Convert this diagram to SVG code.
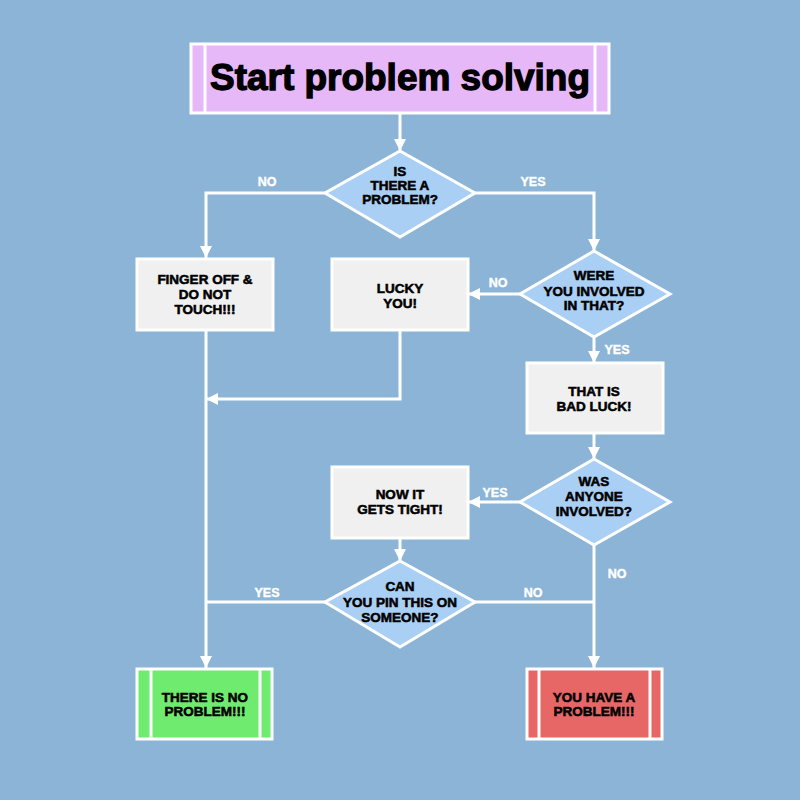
<svg xmlns="http://www.w3.org/2000/svg" width="800" height="800" viewBox="0 0 800 800">
<defs>
<marker id="ah" viewBox="0 0 12 12" markerWidth="12" markerHeight="12" refX="12" refY="6" orient="auto" markerUnits="userSpaceOnUse">
<path d="M0,0 L12,6 L0,12 z" fill="#ffffff"/>
</marker>
<style>
.box{fill:#f0f0f0;stroke:#ffffff;stroke-width:3}
.dia{fill:#a9cff4;stroke:#ffffff;stroke-width:3}
.term{stroke:#ffffff;stroke-width:3}
.in{stroke:#ffffff;stroke-width:3;fill:none}
.t{font-family:"Liberation Sans",Arial,sans-serif;font-weight:bold;font-size:13.5px;fill:#000000;stroke:#000000;stroke-width:0.55;text-anchor:middle}
.lbl{font-family:"Liberation Sans",Arial,sans-serif;font-weight:bold;font-size:12.5px;fill:#ffffff;stroke:#ffffff;stroke-width:0.4;text-anchor:middle}
.c{stroke:#ffffff;stroke-width:3;fill:none}
.title{font-family:"Liberation Sans",Arial,sans-serif;font-weight:bold;font-size:37.5px;fill:#000000;stroke:#000000;stroke-width:1.3;text-anchor:middle}
</style>
</defs>
<rect x="0" y="0" width="800" height="800" fill="#8bb4d6"/>

<g id="connectors">
<path class="c" d="M400,113 L400,151" marker-end="url(#ah)"/>
<path class="c" d="M325,193 L206,193 L206,258" marker-end="url(#ah)"/>
<path class="c" d="M475,193 L594,193 L594,251" marker-end="url(#ah)"/>
<path class="c" d="M520,294 L468,294" marker-end="url(#ah)"/>
<path class="c" d="M594,337 L594,363" marker-end="url(#ah)"/>
<path class="c" d="M400,330 L400,399 L206,399" marker-end="url(#ah)"/>
<path class="c" d="M206,330 L206,668" marker-end="url(#ah)"/>
<path class="c" d="M594,433 L594,459" marker-end="url(#ah)"/>
<path class="c" d="M520,502 L468,502" marker-end="url(#ah)"/>
<path class="c" d="M400,538 L400,561" marker-end="url(#ah)"/>
<path class="c" d="M325,602 L206,602"/>
<path class="c" d="M475,602 L594,602"/>
<path class="c" d="M594,545 L594,668" marker-end="url(#ah)"/>
<text class="lbl" x="267" y="186">NO</text>
<text class="lbl" x="533" y="186">YES</text>
<text class="lbl" x="498" y="287">NO</text>
<text class="lbl" x="617" y="354">YES</text>
<text class="lbl" x="495" y="497">YES</text>
<text class="lbl" x="617" y="578">NO</text>
<text class="lbl" x="533" y="597">NO</text>
<text class="lbl" x="267" y="597">YES</text>
</g>

<g id="start">
<rect x="191" y="44" width="418" height="69" fill="#e6b8f8" class="term"/>
<line class="in" x1="205" y1="44" x2="205" y2="113"/>
<line class="in" x1="595" y1="44" x2="595" y2="113"/>
<text class="title" x="400" y="90" textLength="380" lengthAdjust="spacingAndGlyphs">Start problem solving</text>
</g>

<g id="d-problem">
<polygon class="dia" points="400,151 475,193 400,237 325,193"/>
<text class="t" x="400" y="176">IS</text>
<text class="t" x="400" y="190">THERE A</text>
<text class="t" x="400" y="204">PROBLEM?</text>
</g>

<g id="finger-off">
<rect class="box" x="137" y="259" width="136" height="71"/>
<text class="t" x="205" y="284">FINGER OFF &amp;</text>
<text class="t" x="205" y="299">DO NOT</text>
<text class="t" x="205" y="314">TOUCH!!!</text>
</g>

<g id="lucky-you">
<rect class="box" x="332" y="259" width="136" height="71"/>
<text class="t" x="400" y="293">LUCKY</text>
<text class="t" x="400" y="308">YOU!</text>
</g>

<g id="d-involved">
<polygon class="dia" points="594,251 670,294 594,337 520,294"/>
<text class="t" x="594" y="280">WERE</text>
<text class="t" x="594" y="296">YOU INVOLVED</text>
<text class="t" x="594" y="310">IN THAT?</text>
</g>

<g id="bad-luck">
<rect class="box" x="527" y="363" width="136" height="70"/>
<text class="t" x="594" y="396">THAT IS</text>
<text class="t" x="594" y="411">BAD LUCK!</text>
</g>

<g id="d-anyone">
<polygon class="dia" points="594,459 670,502 594,545 520,502"/>
<text class="t" x="594" y="486">WAS</text>
<text class="t" x="594" y="501">ANYONE</text>
<text class="t" x="594" y="516">INVOLVED?</text>
</g>

<g id="tight">
<rect class="box" x="332" y="467" width="136" height="71"/>
<text class="t" x="400" y="499">NOW IT</text>
<text class="t" x="400" y="514">GETS TIGHT!</text>
</g>

<g id="d-pin">
<polygon class="dia" points="400,561 475,602 400,647 325,602"/>
<text class="t" x="400" y="591">CAN</text>
<text class="t" x="400" y="607">YOU PIN THIS ON</text>
<text class="t" x="400" y="622">SOMEONE?</text>
</g>

<g id="no-problem">
<rect x="137" y="669" width="135" height="70" fill="#6fec6f" class="term"/>
<line class="in" x1="151" y1="669" x2="151" y2="739"/>
<line class="in" x1="260" y1="669" x2="260" y2="739"/>
<text class="t" x="205" y="702">THERE IS NO</text>
<text class="t" x="205" y="716">PROBLEM!!!</text>
</g>

<g id="have-problem">
<rect x="527" y="669" width="135" height="70" fill="#e76767" class="term"/>
<line class="in" x1="539" y1="669" x2="539" y2="739"/>
<line class="in" x1="650" y1="669" x2="650" y2="739"/>
<text class="t" x="594" y="702">YOU HAVE A</text>
<text class="t" x="594" y="716">PROBLEM!!!</text>
</g>
</svg>
